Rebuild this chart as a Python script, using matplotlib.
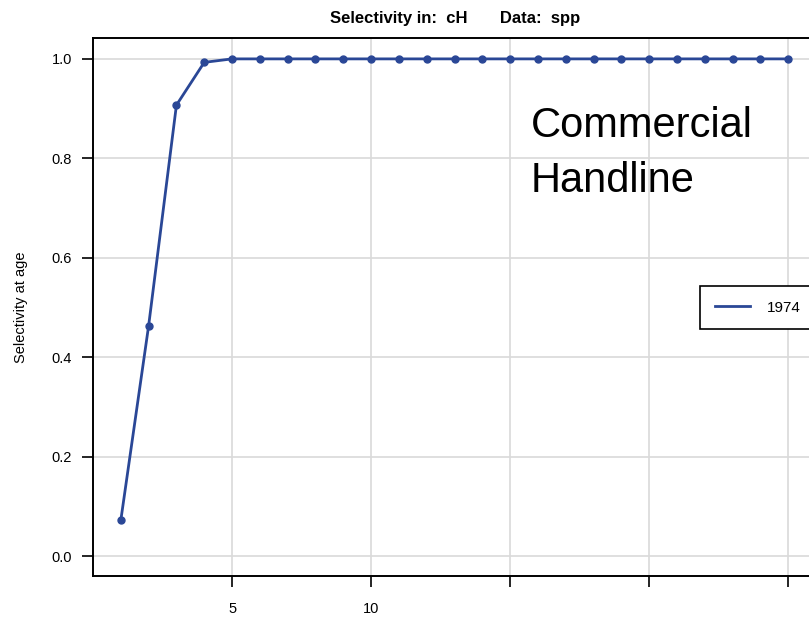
import matplotlib
matplotlib.use("Agg")
import matplotlib.pyplot as plt
from matplotlib.lines import Line2D

ages = list(range(1, 26))
sel_1974 = [0.072, 0.463, 0.907, 0.993] + [1.0] * 21
x_ticks = [5, 10, 15, 20, 25]
x_tick_labels = ["5", "10", "", "", ""]
y_ticks = [0.0, 0.2, 0.4, 0.6, 0.8, 1.0]
line_color = "#2a4796"

plt.rcParams['font.family'] = ['Liberation Sans', 'DejaVu Sans']
fig = plt.figure(figsize=(8.09, 6.18), dpi=100)
ax = fig.add_axes([93 / 809, 42 / 618, 723 / 809, 538 / 618])

ax.plot(ages, sel_1974, color=line_color, lw=2.0, marker="o", ms=5)

ax.set_xlim(0, 26)
ax.set_ylim(-0.04, 1.042)
ax.set_xticks(x_ticks)
ax.set_xticklabels(x_tick_labels)
ax.set_yticks(y_ticks)
ax.set_yticklabels([f"{v:.1f}" for v in y_ticks])
ax.grid(True, color="#d9d9d9", lw=1.2)
ax.set_axisbelow(True)
ax.tick_params(direction="out", length=8, width=1.2, labelsize=10.5)
ax.tick_params(axis="x", pad=11)
ax.tick_params(axis="y", pad=7)
for s in ax.spines.values():
    s.set_linewidth(1.4)

ax.set_ylabel("Selectivity at age", fontsize=10.5, labelpad=17)

fig.text(455 / 809, 1 - 18 / 618, "Selectivity in:  cH       Data:  spp",
         ha="center", va="center", fontsize=12, fontweight="bold")

fig.text(531 / 809, 1 - 106 / 618, "Commercial\nHandline", fontsize=30,
         va="top", ha="left", linespacing=1.5)

handle = Line2D([], [], color=line_color, lw=2.0)
leg = ax.legend([handle], ["1974"], loc="upper left",
                bbox_to_anchor=(700 / 809, 1 - 286 / 618),
                bbox_transform=fig.transFigure, fancybox=False,
                edgecolor="black", framealpha=1, fontsize=11,
                handlelength=2.3, handletextpad=1.1, borderpad=0.95,
                borderaxespad=0)
leg.get_frame().set_linewidth(1.2)

fig.savefig("out.png", dpi=100)
